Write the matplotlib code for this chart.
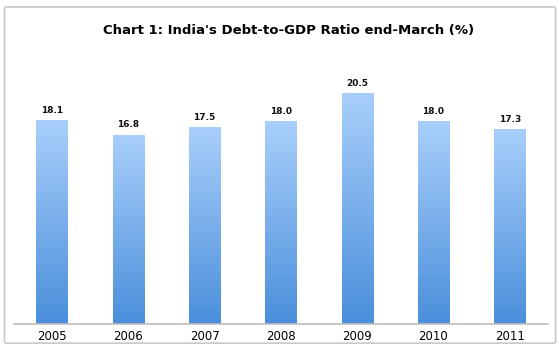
import matplotlib.pyplot as plt
import matplotlib.patches as mpatches
from matplotlib.colors import LinearSegmentedColormap
import numpy as np

years = ['2005', '2006', '2007', '2008', '2009', '2010', '2011']
ratio = [18.1, 16.8, 17.5, 18.0, 20.5, 18.0, 17.3]

fig = plt.figure(figsize=(5.59, 3.48), dpi=100)
ax = fig.add_axes([0.025, 0.069, 0.955, 0.81])

# outer frame
frame = mpatches.FancyBboxPatch((0.008, 0.014), 0.986, 0.966, boxstyle='round,pad=0,rounding_size=0.004',
                                transform=fig.transFigure, facecolor='none', edgecolor='#c8c8c8', linewidth=1.2)
fig.patches.append(frame)

x = np.arange(len(years))
bars = ax.bar(x, ratio, width=0.41, color='none', edgecolor='none')

# vertical gradient fill for each bar
cmap = LinearSegmentedColormap.from_list('blu', ['#4a8fdb', '#a9cffb'])
grad = np.linspace(0, 1, 256).reshape(-1, 1)
for b in bars:
    x0, y0 = b.get_x(), b.get_y()
    w, h = b.get_width(), b.get_height()
    im = ax.imshow(grad, cmap=cmap, aspect='auto', origin='lower',
                   extent=(x0, x0 + w, y0, y0 + h), zorder=2)
    im.set_clip_path(b)

for xi, v in zip(x, ratio):
    ax.text(xi, v + 0.45, f'{v:.1f}', ha='center', va='bottom', fontsize=6.5, fontweight='bold', color='#111111')

ax.set_xlim(-0.5, len(years) - 0.5)
ax.set_ylim(0, 25)
ax.set_xticks(x)
ax.set_xticklabels(years, fontsize=8.5)
ax.tick_params(axis='x', length=0, pad=4)
ax.set_yticks([])
for s in ['top', 'right', 'left']:
    ax.spines[s].set_visible(False)
ax.spines['bottom'].set_color('#bdbdbd')
ax.spines['bottom'].set_linewidth(1.2)

fig.text(0.517, 0.913, "Chart 1: India's Debt-to-GDP Ratio end-March (%)", ha='center', va='center',
         fontsize=9.5, fontweight='bold')

fig.savefig('out.png', dpi=100, facecolor='white')
